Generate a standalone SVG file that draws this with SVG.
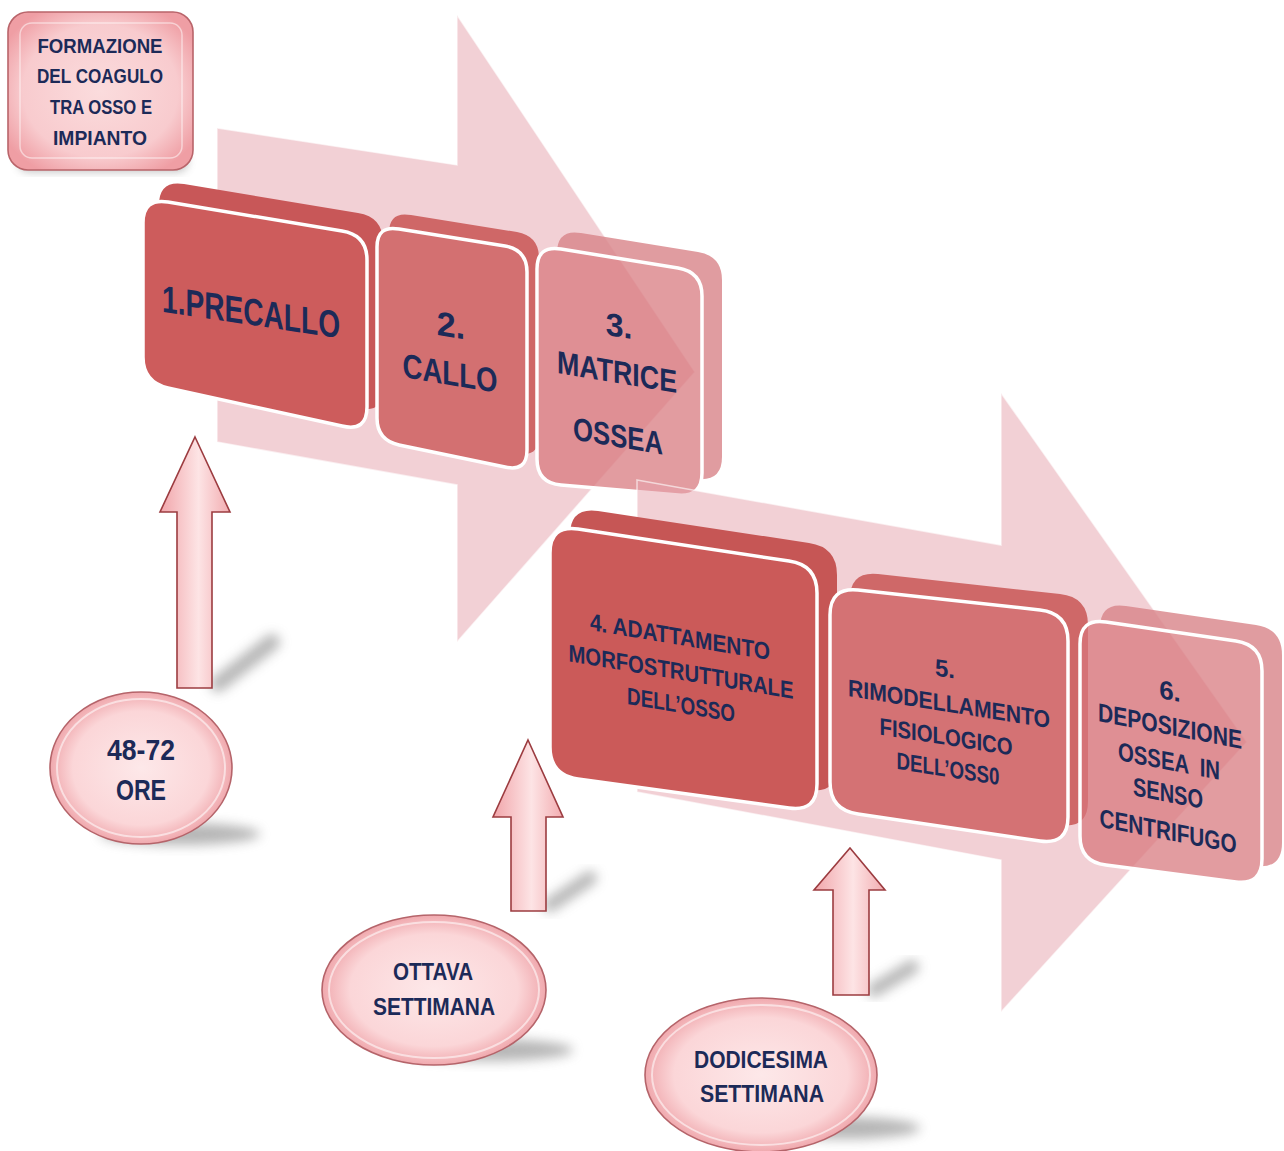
<svg xmlns="http://www.w3.org/2000/svg" width="1284" height="1151" viewBox="0 0 1284 1151">
<defs>
<style>
.t{font-family:"Liberation Sans",Arial,sans-serif;font-weight:bold;fill:#1c2a58;text-anchor:middle}
.bg{fill:#e5a2ab;fill-opacity:0.5;stroke:#ffffff;stroke-opacity:0.6;stroke-width:1.5}
.fr{stroke:#ffffff;stroke-width:3.5}
.up{fill:url(#upg);stroke:#9c3c40;stroke-width:1.6;stroke-linejoin:miter}
.ov{fill:url(#ovg);stroke:#b5646a;stroke-width:1.6}
.ovi{fill:none;stroke:#ffffff;stroke-opacity:0.55;stroke-width:2}
.sh{fill:#7a7a7a;opacity:0.55;filter:url(#blur)}
</style>
<filter id="blur" x="-50%" y="-50%" width="200%" height="200%"><feGaussianBlur stdDeviation="6"/></filter>
<filter id="blur2" x="-20%" y="-20%" width="140%" height="140%"><feGaussianBlur stdDeviation="4"/></filter>
<linearGradient id="upg" x1="0" y1="0" x2="1" y2="0">
<stop offset="0" stop-color="#f1a5aa"/><stop offset="0.55" stop-color="#fde4e5"/><stop offset="1" stop-color="#f2acb0"/>
</linearGradient>
<radialGradient id="ovg" cx="0.5" cy="0.5" r="0.5">
<stop offset="0" stop-color="#fde8e9"/><stop offset="0.75" stop-color="#fbd6d8"/><stop offset="1" stop-color="#f0a9ae"/>
</radialGradient>
<radialGradient id="tlg" cx="0.5" cy="0.5" r="0.6">
<stop offset="0" stop-color="#fbdcdd"/><stop offset="0.7" stop-color="#f8cbce"/><stop offset="1" stop-color="#ef9ea4"/>
</radialGradient>
<path id="f1" d="M168,202 L342,231 Q367,235 367,260 L367,407 Q367,432 342,426 L168,388 Q143,382 143,357 L143,223 Q143,198 168,202 Z"/>
<path id="f2" d="M399,229 L505,246 Q527,250 527,272 L527,450 Q527,472 505,467 L399,445 Q377,440 377,418 L377,247 Q377,225 399,229 Z"/>
<path id="f3" d="M561,249 L678,268 Q702,272 702,296 L702,473 Q702,497 678,495 L561,485 Q537,483 537,459 L537,269 Q537,245 561,249 Z"/>
<path id="f4" d="M578,529 L789,561 Q817,565 817,593 L817,784 Q817,812 789,808 L578,779 Q550,775 550,747 L550,553 Q550,525 578,529 Z"/>
<path id="f5" d="M858,590 L1040,610 Q1068,613 1068,641 L1068,817 Q1068,845 1040,841 L858,814 Q830,810 830,782 L830,615 Q830,587 858,590 Z"/>
<path id="f6" d="M1106,622 L1236,641 Q1262,645 1262,671 L1262,859 Q1262,885 1236,882 L1106,865 Q1080,862 1080,836 L1080,644 Q1080,618 1106,622 Z"/>
<mask id="m3" maskUnits="userSpaceOnUse" x="0" y="0" width="1284" height="1151">
<rect width="1284" height="1151" fill="#ffffff"/><use href="#f3" fill="#000000"/>
</mask>
<mask id="m6" maskUnits="userSpaceOnUse" x="0" y="0" width="1284" height="1151">
<rect width="1284" height="1151" fill="#ffffff"/><use href="#f6" fill="#000000"/>
</mask>
</defs>
<rect width="1284" height="1151" fill="#ffffff"/>

<g id="bg-arrow-1">
<polygon class="bg" points="217,128 457,165 457,15 695,372 457,642 457,485 217,442"/>
</g>

<g id="box-1">
<use href="#f1" transform="translate(16,-18)" fill="#c85758"/>
<use href="#f1" class="fr" fill="#cd5c5c"/>
<text class="t" font-size="38" textLength="178" lengthAdjust="spacingAndGlyphs" transform="translate(251,325) skewY(8.5)">1.PRECALLO</text>
</g>

<g id="box-2">
<use href="#f2" transform="translate(12,-14)" fill="#cf6767"/>
<use href="#f2" class="fr" fill="#d37071"/>
<text class="t" font-size="34" transform="translate(451,337) skewY(9.5)">2.</text>
<text class="t" font-size="34" textLength="95" lengthAdjust="spacingAndGlyphs" transform="translate(450,385) skewY(9.5)">CALLO</text>
</g>

<g id="box-3">
<g mask="url(#m3)" opacity="0.8"><use href="#f3" transform="translate(20,-16)" fill="#d98489"/></g>
<use href="#f3" class="fr" fill="#d7767b" fill-opacity="0.72"/>
<text class="t" font-size="32" transform="translate(619,337) skewY(9.5)">3.</text>
<text class="t" font-size="32" textLength="120" lengthAdjust="spacingAndGlyphs" transform="translate(617,383) skewY(9.5)">MATRICE</text>
<text class="t" font-size="32" textLength="90" lengthAdjust="spacingAndGlyphs" transform="translate(618,447) skewY(9.5)">OSSEA</text>
</g>

<g id="bg-arrow-2">
<polygon class="bg" points="637,480 1001,545 1001,393 1247,742 1001,1012 1001,860 637,792"/>
</g>

<g id="box-4">
<use href="#f4" transform="translate(20,-18)" fill="#c65655"/>
<use href="#f4" class="fr" fill="#cb5a59"/>
<text class="t" font-size="24" textLength="180" lengthAdjust="spacingAndGlyphs" transform="translate(680,645) skewY(9.5)">4. ADATTAMENTO</text>
<text class="t" font-size="24" textLength="225" lengthAdjust="spacingAndGlyphs" transform="translate(681,680) skewY(9.5)">MORFOSTRUTTURALE</text>
<text class="t" font-size="24" textLength="108" lengthAdjust="spacingAndGlyphs" transform="translate(681,713) skewY(9.5)">DELL’OSSO</text>
</g>

<g id="box-5">
<use href="#f5" transform="translate(20,-16)" fill="#cf6868"/>
<use href="#f5" class="fr" fill="#d47274"/>
<text class="t" font-size="24" transform="translate(945,677) skewY(9)">5.</text>
<text class="t" font-size="24" textLength="202" lengthAdjust="spacingAndGlyphs" transform="translate(949,712) skewY(9)">RIMODELLAMENTO</text>
<text class="t" font-size="24" textLength="133" lengthAdjust="spacingAndGlyphs" transform="translate(946,745) skewY(9)">FISIOLOGICO</text>
<text class="t" font-size="24" textLength="103" lengthAdjust="spacingAndGlyphs" transform="translate(948,777) skewY(9)">DELL’OSS0</text>
</g>

<g id="box-6">
<g mask="url(#m6)" opacity="0.8"><use href="#f6" transform="translate(20,-16)" fill="#d98489"/></g>
<use href="#f6" class="fr" fill="#d7767b" fill-opacity="0.72"/>
<text class="t" font-size="26" transform="translate(1170,700) skewY(11)">6.</text>
<text class="t" font-size="26" textLength="144" lengthAdjust="spacingAndGlyphs" transform="translate(1170,735) skewY(11)">DEPOSIZIONE</text>
<text class="t" font-size="26" textLength="102" lengthAdjust="spacingAndGlyphs" style="white-space:pre" transform="translate(1169,770) skewY(11)">OSSEA  IN</text>
<text class="t" font-size="26" textLength="70" lengthAdjust="spacingAndGlyphs" transform="translate(1168,802) skewY(11)">SENSO</text>
<text class="t" font-size="26" textLength="137" lengthAdjust="spacingAndGlyphs" transform="translate(1168,840) skewY(11)">CENTRIFUGO</text>
</g>

<g id="shadows">
<line x1="218" y1="684" x2="272" y2="642" stroke="#707070" stroke-width="16" stroke-linecap="round" opacity="0.5" filter="url(#blur)"/>
<line x1="550" y1="905" x2="590" y2="878" stroke="#707070" stroke-width="14" stroke-linecap="round" opacity="0.5" filter="url(#blur)"/>
<line x1="874" y1="990" x2="912" y2="967" stroke="#707070" stroke-width="14" stroke-linecap="round" opacity="0.5" filter="url(#blur)"/>
<ellipse class="sh" cx="180" cy="834" rx="80" ry="11"/>
<ellipse class="sh" cx="488" cy="1050" rx="85" ry="11"/>
<ellipse class="sh" cx="845" cy="1128" rx="75" ry="11"/>
<rect x="18" y="150" width="170" height="22" rx="10" fill="#7a7a7a" opacity="0.45" filter="url(#blur2)"/>
</g>

<g id="connectors">
<path class="up" d="M195,437 L230,512 L212,512 L212,688 L177,688 L177,512 L160,512 Z"/>
<path class="up" d="M528,740 L563,817 L546,817 L546,911 L511,911 L511,817 L493,817 Z"/>
<path class="up" d="M850,848 L885,890 L869,890 L869,995 L833,995 L833,890 L814,890 Z"/>
</g>

<g id="oval-48-72">
<ellipse class="ov" cx="141" cy="768" rx="91" ry="76"/>
<ellipse class="ovi" cx="141" cy="768" rx="84" ry="69"/>
<text class="t" font-size="30" textLength="68" lengthAdjust="spacingAndGlyphs" x="141" y="760">48-72</text>
<text class="t" font-size="30" textLength="50" lengthAdjust="spacingAndGlyphs" x="141" y="800">ORE</text>
</g>

<g id="oval-ottava">
<ellipse class="ov" cx="434" cy="990" rx="112" ry="75"/>
<ellipse class="ovi" cx="434" cy="990" rx="105" ry="68"/>
<text class="t" font-size="24" textLength="80" lengthAdjust="spacingAndGlyphs" x="433" y="980">OTTAVA</text>
<text class="t" font-size="24" textLength="122" lengthAdjust="spacingAndGlyphs" x="434" y="1015">SETTIMANA</text>
</g>

<g id="oval-dodicesima">
<ellipse class="ov" cx="761" cy="1075" rx="116" ry="77"/>
<ellipse class="ovi" cx="761" cy="1075" rx="109" ry="70"/>
<text class="t" font-size="24" textLength="134" lengthAdjust="spacingAndGlyphs" x="761" y="1068">DODICESIMA</text>
<text class="t" font-size="24" textLength="124" lengthAdjust="spacingAndGlyphs" x="762" y="1102">SETTIMANA</text>
</g>

<g id="box-formazione">
<rect x="8" y="12" width="185" height="158" rx="20" fill="url(#tlg)" stroke="#b9646a" stroke-width="1.6"/>
<rect x="20" y="23" width="162" height="135" rx="12" fill="none" stroke="#ffffff" stroke-opacity="0.5" stroke-width="1.5"/>
<text class="t" font-size="20" textLength="125" lengthAdjust="spacingAndGlyphs" x="100" y="53">FORMAZIONE</text>
<text class="t" font-size="20" textLength="126" lengthAdjust="spacingAndGlyphs" x="100" y="83">DEL COAGULO</text>
<text class="t" font-size="20" textLength="102" lengthAdjust="spacingAndGlyphs" x="101" y="114">TRA OSSO E</text>
<text class="t" font-size="20" textLength="94" lengthAdjust="spacingAndGlyphs" x="100" y="145">IMPIANTO</text>
</g>
</svg>
